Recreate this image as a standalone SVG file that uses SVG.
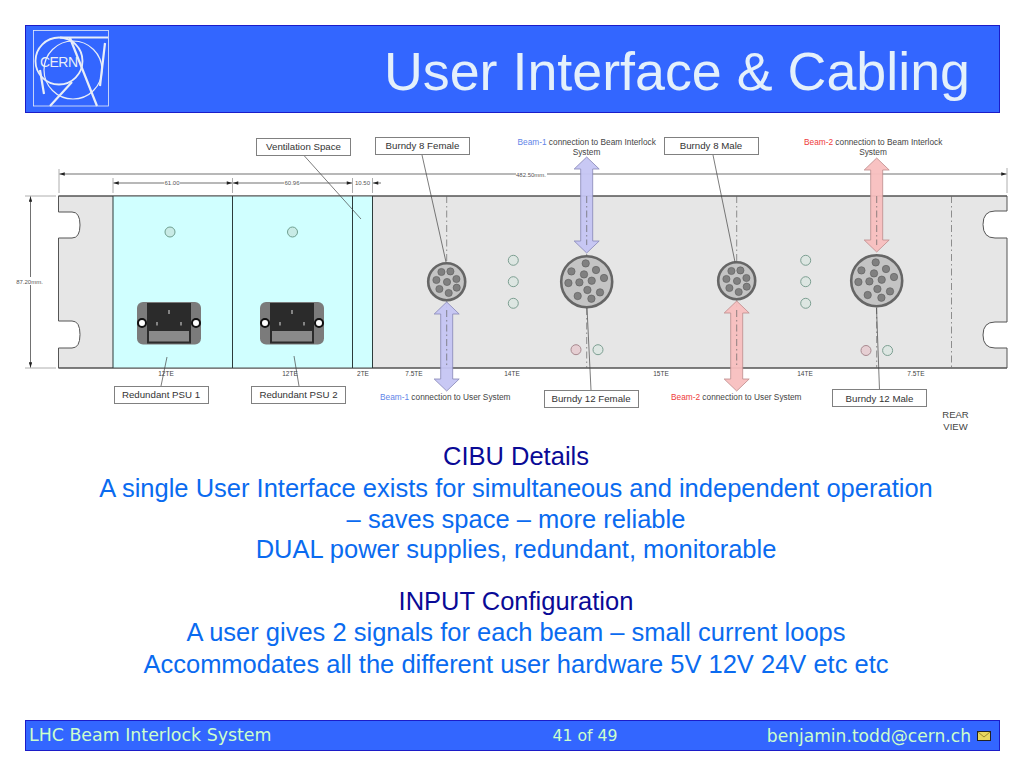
<svg xmlns="http://www.w3.org/2000/svg" width="1024" height="768" viewBox="0 0 1024 768">
<style>
text{font-family:"Liberation Sans",Arial,sans-serif}
.bar{fill:#3366ff;stroke:#1c1cc8;stroke-width:1}
.lbl{fill:#fff;stroke:#808080;stroke-width:1}
.lt{font-size:9.7px;fill:#333;text-anchor:middle}
.te{font-size:6.5px;fill:#444;text-anchor:middle}
.dimt{font-size:6px;fill:#555;text-anchor:middle}
.cap{font-size:8.3px;fill:#444}
.b1{fill:#5f85e8}.b2{fill:#ee3b3b}
.leader{stroke:#444;stroke-width:.7;fill:none}
.dim{stroke:#333;stroke-width:.7;fill:none}
.ext{stroke:#999;stroke-width:.8;fill:none}
.cl{stroke:#666;stroke-width:.7;stroke-dasharray:7 3 1.500 3;fill:none}
.led{fill:#dde6e2;stroke:#7d9f92;stroke-width:1}
.ledc{fill:#c8ebe6;stroke:#6f9f90;stroke-width:1}
.ledr{fill:#e6cfd3;stroke:#a88a90;stroke-width:1}
.arw1{fill:#c5c5f3;fill-opacity:.95;stroke:#8585b5;stroke-width:.8}
.arw2{fill:#f8bfbf;fill-opacity:.95;stroke:#bd8a8a;stroke-width:.8}
.pin{fill:#808080;stroke:#5a5a5a;stroke-width:.6}
.main{font-size:25.500px;text-anchor:middle;fill:#0a6bf0}
.head{font-size:25.500px;text-anchor:middle;fill:#0a0a96}
.foot{font-family:"DejaVu Sans",Verdana,sans-serif;fill:#ccffcc}
.logo{fill:none;stroke:#e8eef8}
</style>
<defs>
<marker id="ah" viewBox="0 0 6 4" refX="6" refY="2" markerWidth="6" markerHeight="3.500" orient="auto-start-reverse" markerUnits="userSpaceOnUse"><path d="M0 0L6 2L0 4Z" fill="#222"/></marker>
<g id="psu">
<rect x="0" y="0" width="64" height="42.500" rx="6" fill="#7b7b7b"/>
<rect x="10" y="1" width="44" height="40.500" fill="#2b2b2b"/>
<rect x="12" y="29" width="40" height="10.500" fill="#8a8a8a"/>
<circle cx="5" cy="21" r="4" fill="#fff" stroke="#111" stroke-width="2"/>
<circle cx="59" cy="21" r="4" fill="#fff" stroke="#111" stroke-width="2"/>
<rect x="31.500" y="8" width="1" height="4" fill="#ddd"/>
<rect x="19.500" y="20" width="1" height="3.500" fill="#ddd"/>
<rect x="43.500" y="20" width="1" height="3.500" fill="#ddd"/>
</g>
<g id="b8">
<circle r="18.500" fill="#c4c4c4" stroke="#666" stroke-width="2.600"/>
<circle class="pin" cx="-5.300" cy="-9.700" r="3.600"/><circle class="pin" cx="3.700" cy="-10.300" r="3.600"/><circle class="pin" cx="-10.300" cy="-1.700" r="3.600"/><circle class="pin" cx="0.300" cy="0.300" r="3.600"/><circle class="pin" cx="9.700" cy="-2.700" r="3.600"/><circle class="pin" cx="-7.300" cy="7.300" r="3.600"/><circle class="pin" cx="2" cy="11.300" r="3.600"/><circle class="pin" cx="10" cy="6" r="3.600"/>
</g>
<g id="b12">
<circle r="25.500" fill="#c4c4c4" stroke="#666" stroke-width="2.600"/>
<circle class="pin" cx="-1" cy="-18.300" r="3.700"/><circle class="pin" cx="-15.300" cy="-10.300" r="3.700"/><circle class="pin" cx="-2.700" cy="-7.300" r="3.700"/><circle class="pin" cx="9.300" cy="-11.700" r="3.700"/><circle class="pin" cx="-18.300" cy="1.300" r="3.700"/><circle class="pin" cx="-7.300" cy="0.700" r="3.700"/><circle class="pin" cx="5" cy="-1" r="3.700"/><circle class="pin" cx="17.300" cy="-3.700" r="3.700"/><circle class="pin" cx="0.700" cy="8.300" r="3.700"/><circle class="pin" cx="13.300" cy="10.700" r="3.700"/><circle class="pin" cx="-9" cy="14.300" r="3.700"/><circle class="pin" cx="4.700" cy="17" r="3.700"/>
</g>
</defs>
<rect width="1024" height="768" fill="#fff"/>

<g id="header">
<rect class="bar" x="25.500" y="25.500" width="974" height="87"/>
<g id="logo">
<rect class="logo" x="33.500" y="30.500" width="75" height="75.500" stroke-width=".8"/>
<circle class="logo" cx="59" cy="61" r="23.500" stroke-width="1.800"/>
<circle class="logo" cx="73" cy="70" r="29" stroke-width="1.200"/>
<path class="logo" stroke-width="2.200" d="M60 37.500H108M70 38L97 106M72 82L50 106M40 70L44 94M105 43L100 86"/>
<text x="40" y="67" font-size="14" fill="#e8eef8" textLength="38">CERN</text>
</g>
<text x="970" y="90" text-anchor="end" font-size="53.800" fill="#e4f0fb">User Interface &amp; Cabling</text>
</g>

<g id="panel">
<path d="M58.500 196H1007V211H995Q983 211 983 224.500Q983 238 995 238H1007V322H995Q983 322 983 335Q983 348 995 348H1007V368H58.500V348H72Q80 348 80 334.500Q80 321 72 321H58.500V238H72Q80 238 80 225Q80 212 72 212H58.500Z" fill="#e6e6e6" stroke="#555" stroke-width="1"/>
<rect x="113" y="196" width="259" height="172" fill="#d0ffff"/>
<path d="M58.500 196H1007M58.500 368H1007" stroke="#555" stroke-width="1.200" fill="none"/>
<path d="M113 196V368M232.500 196V368M352.500 196V368M372.500 196V368" stroke="#2d3b3b" stroke-width="1" fill="none"/>
<path class="cl" d="M446.700 196V262M446.700 301V368M586.700 196V255M586.700 308V368M736.700 196V261M736.700 300V368M876.700 196V254M876.700 307V368M951.500 196V368"/>
</g>

<g id="psu1"><use href="#psu" x="137" y="302"/><circle class="ledc" cx="170" cy="232" r="5"/></g>
<g id="psu2"><use href="#psu" x="260" y="302"/><circle class="ledc" cx="292.500" cy="232" r="5"/></g>

<g id="burndy8f"><use href="#b8" x="446.700" y="281.700"/></g>
<g id="burndy12f"><use href="#b12" x="586.700" y="281.700"/></g>
<g id="burndy8m"><use href="#b8" x="736.700" y="280.700"/></g>
<g id="burndy12m"><use href="#b12" x="876.700" y="280.700"/></g>

<g id="leds">
<circle class="led" cx="513.300" cy="260.300" r="5"/><circle class="led" cx="513.300" cy="281.700" r="5"/><circle class="led" cx="513.300" cy="303.300" r="5"/>
<circle class="led" cx="805.700" cy="260.300" r="5"/><circle class="led" cx="805.700" cy="281.700" r="5"/><circle class="led" cx="805.700" cy="303.300" r="5"/>
<circle class="ledr" cx="576" cy="349.700" r="5"/><circle class="led" cx="598" cy="349.700" r="5"/>
<circle class="ledr" cx="866" cy="350.500" r="5"/><circle class="led" cx="887.600" cy="350.500" r="5"/>
</g>

<g id="dimensions">
<path class="ext" d="M59 169V193M1007 168V193M113 178V193M232.500 178V193M352.500 178V193M372.500 178V193M25 196H56M25 368H56"/>
<path class="dim" marker-start="url(#ah)" d="M59.500 174H516"/><path class="dim" marker-end="url(#ah)" d="M547 174H1006.500"/>
<path class="dim" marker-start="url(#ah)" d="M113.500 183H164"/><path class="dim" marker-end="url(#ah)" d="M180 183H232"/>
<path class="dim" marker-start="url(#ah)" d="M233 183H284"/><path class="dim" marker-end="url(#ah)" d="M300 183H352"/>
<path class="dim" marker-start="url(#ah)" d="M373 183H381"/>
<path class="dim" marker-start="url(#ah)" marker-end="url(#ah)" d="M30.500 196.500V367.500"/>
<text class="dimt" x="531" y="176.500">482.50mm.</text>
<text class="dimt" x="172" y="185">61.00</text>
<text class="dimt" x="292" y="185">60.96</text>
<text class="dimt" x="362.500" y="185">10.50</text>
<rect x="20" y="277" width="20" height="8" fill="#fff"/>
<text class="dimt" x="29.500" y="283.500">87.20mm.</text>
<text class="te" x="166" y="375.500">12TE</text>
<text class="te" x="290" y="375.500">12TE</text>
<text class="te" x="363" y="375.500">2TE</text>
<text class="te" x="414" y="375.500">7.5TE</text>
<text class="te" x="512" y="375.500">14TE</text>
<text class="te" x="661" y="375.500">15TE</text>
<text class="te" x="805" y="375.500">14TE</text>
<text class="te" x="916" y="375.500">7.5TE</text>
</g>

<g id="connectors">
<path class="leader" d="M304 155.500L361 219M422 155L446 262M713 155L735 262M587 308L591 390M876.500 308L879.500 390M167 357L161 386M294 356L299 386"/>
<path class="arw1" d="M586.700 157L599.200 169H592.700V241H599.200L586.700 253L574.200 241H580.700V169H574.200Z"/>
<path class="arw1" d="M446.700 302L459.200 314H452.700V379H459.200L446.700 391L434.200 379H440.700V314H434.200Z"/>
<path class="arw2" d="M876.700 158L889.200 170H882.700V240H889.200L876.700 252L864.200 240H870.700V170H864.200Z"/>
<path class="arw2" d="M736.700 301L749.200 313H742.700V379H749.200L736.700 391L724.200 379H730.700V313H724.200Z"/>
<path class="cl" d="M586.700 196V245M446.700 310V368M876.700 196V245M736.700 310V368"/>
</g>

<g id="label-ventilation"><rect class="lbl" x="256.500" y="138.500" width="94" height="17"/><text class="lt" x="303.500" y="150">Ventilation Space</text></g>
<g id="label-b8f"><rect class="lbl" x="375.500" y="137.500" width="94" height="17"/><text class="lt" x="422.500" y="149">Burndy 8 Female</text></g>
<g id="label-b8m"><rect class="lbl" x="664.500" y="137.500" width="94" height="17"/><text class="lt" x="711" y="149">Burndy 8 Male</text></g>
<g id="label-b12f"><rect class="lbl" x="544.500" y="390.500" width="94" height="17"/><text class="lt" x="591" y="402">Burndy 12 Female</text></g>
<g id="label-b12m"><rect class="lbl" x="832.500" y="389.500" width="94" height="17"/><text class="lt" x="879.500" y="401.500">Burndy 12 Male</text></g>
<g id="label-psu1"><rect class="lbl" x="114.500" y="386.500" width="94" height="17"/><text class="lt" x="161" y="398">Redundant PSU 1</text></g>
<g id="label-psu2"><rect class="lbl" x="251.500" y="386.500" width="94" height="17"/><text class="lt" x="298.500" y="398">Redundant PSU 2</text></g>

<g id="captions">
<text class="cap" x="517.500" y="145"><tspan class="b1">Beam-1</tspan> connection to Beam Interlock</text>
<text class="cap" x="586.500" y="155" text-anchor="middle">System</text>
<text class="cap" x="380" y="399.500"><tspan class="b1">Beam-1</tspan> connection to User System</text>
<text class="cap" x="671" y="399.500"><tspan class="b2">Beam-2</tspan> connection to User System</text>
<text class="cap" x="804" y="145"><tspan class="b2">Beam-2</tspan> connection to Beam Interlock</text>
<text class="cap" x="873" y="155" text-anchor="middle">System</text>
<text x="955.500" y="418" font-size="9.500" fill="#444" text-anchor="middle">REAR</text>
<text x="955.500" y="430" font-size="9.500" fill="#444" text-anchor="middle">VIEW</text>
</g>

<g id="body">
<text class="head" x="516" y="465">CIBU Details</text>
<text class="main" x="516" y="497">A single User Interface exists for simultaneous and independent operation</text>
<text class="main" x="516" y="528">– saves space – more reliable</text>
<text class="main" x="516" y="558">DUAL power supplies, redundant, monitorable</text>
<text class="head" x="516" y="610">INPUT Configuration</text>
<text class="main" x="516" y="641">A user gives 2 signals for each beam – small current loops</text>
<text class="main" x="516" y="673">Accommodates all the different user hardware 5V 12V 24V etc etc</text>
</g>

<g id="footer">
<rect class="bar" x="25.500" y="720.500" width="974" height="30"/>
<text class="foot" x="29" y="741" font-size="17.400">LHC Beam Interlock System</text>
<text class="foot" x="585" y="741" text-anchor="middle" font-size="15.700">41 of 49</text>
<text class="foot" x="971" y="742" text-anchor="end" font-size="17.100">benjamin.todd@cern.ch</text>
<g id="mail"><rect x="977.500" y="731.500" width="13" height="9" fill="#e8d860" stroke="#222" stroke-width="1"/><path d="M978 732L984 737L990 732" fill="none" stroke="#887722" stroke-width=".8"/></g>
</g>
</svg>
